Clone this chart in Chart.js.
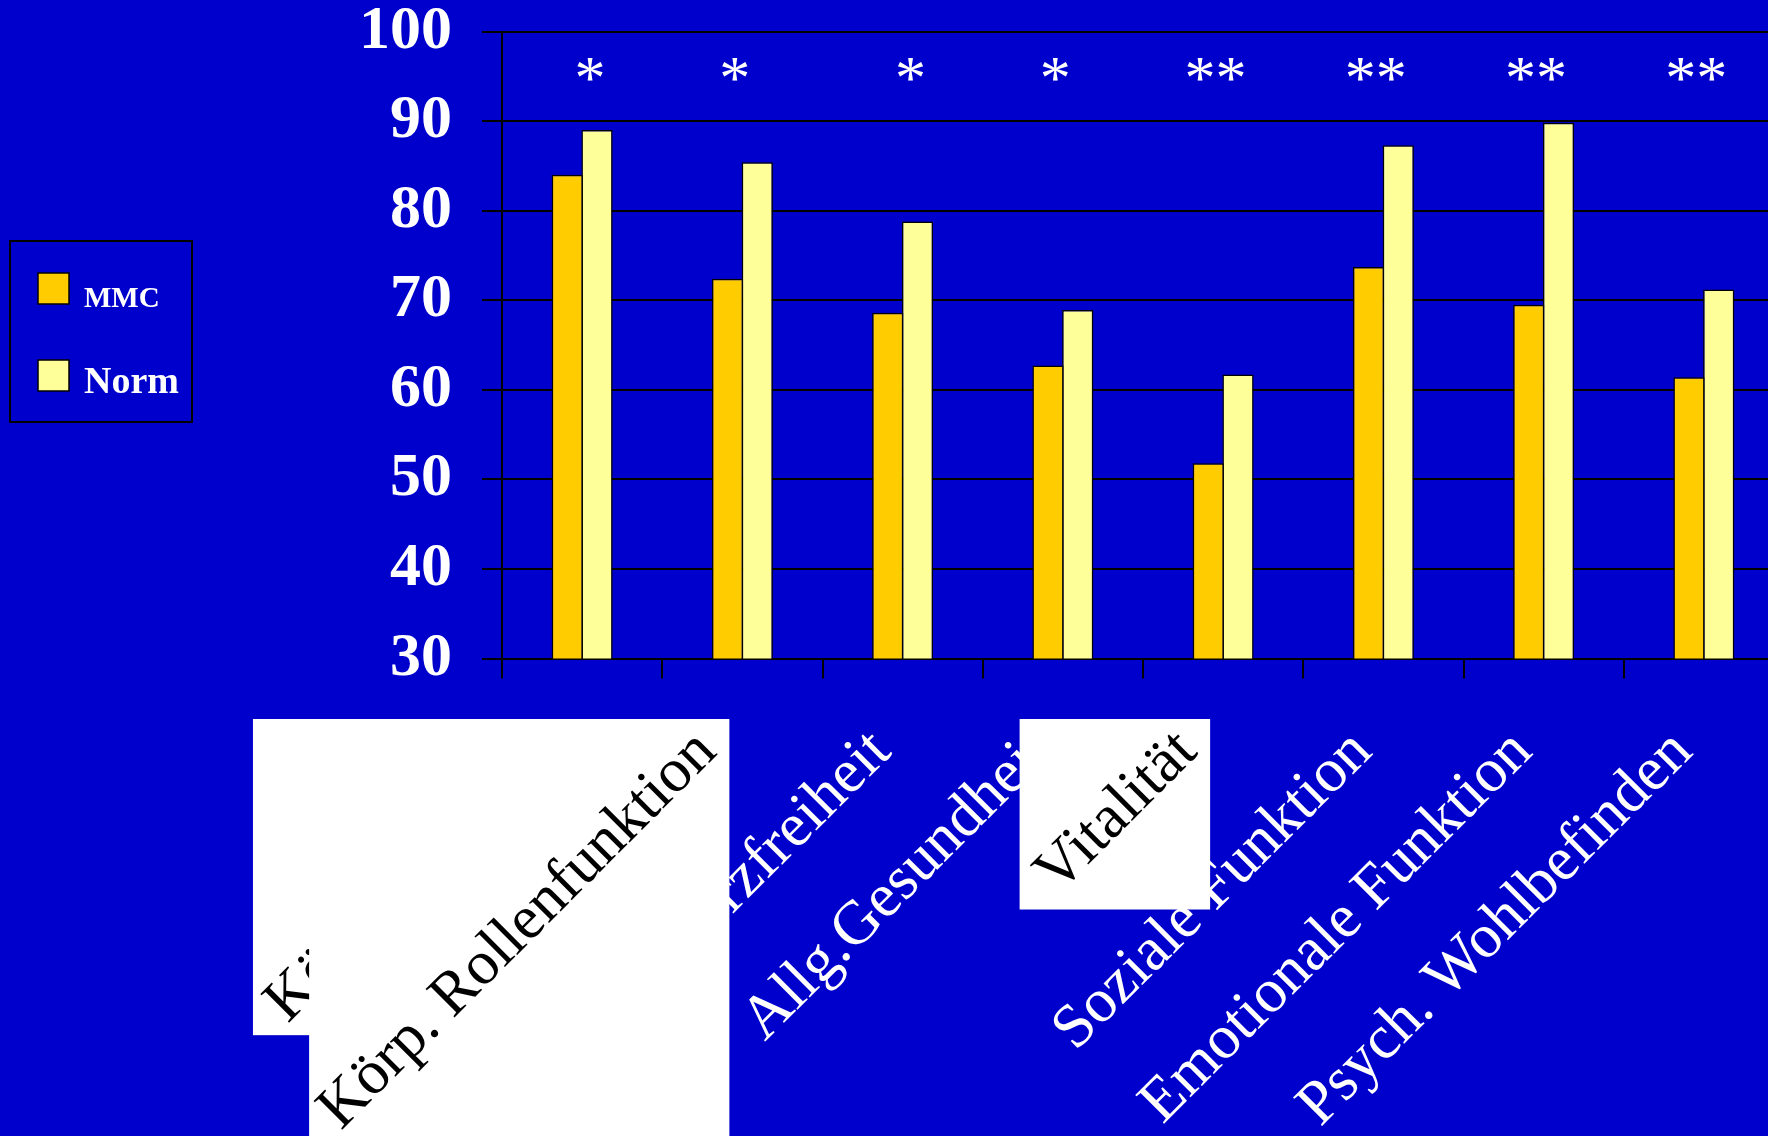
<!DOCTYPE html>
<html lang="de">
<head>
<meta charset="utf-8">
<title>SF-36: MMC und Norm</title>
<script src="https://cdn.jsdelivr.net/npm/chart.js@4/dist/chart.umd.min.js"></script>
<style>
  html, body { margin: 0; padding: 0; background: #0000CC; overflow: hidden; width: 1768px; height: 1136px; }
  #wrap { position: absolute; left: 0; top: 0; width: 1784px; height: 1136px; }
  canvas { display: block; }
</style>
</head>
<body>
<div id="wrap"><canvas id="chart" width="1784" height="1136"></canvas></div>
<script>
// SF-36 scale scores
const categories = [
  'Körp. Funktion', 'Körp. Rollenfunktion', 'Schmerzfreiheit', 'Allg.Gesundheit',
  'Vitalität', 'Soziale Funktion', 'Emotionale Funktion', 'Psych. Wohlbefinden'
];
const mmcValues  = [84, 72.4, 68.6, 62.7, 51.8, 73.7, 69.5, 61.4];
const normValues = [89, 85.4, 78.8, 68.9, 61.7, 87.3, 89.8, 71.2];
const significance = [' *', '* ', ' *', '* ', '** ', '** ', '** ', '** '];
const yTickValues = [30, 40, 50, 60, 70, 80, 90, 100];
// categories whose label sits on a white card
const cardLabelIndex = [0, 1, 4];

const SERIF = "'Liberation Serif', 'Times New Roman', Times, serif";

const decorations = {
  id: 'decorations',
  afterDraw(chart) {
    const ctx = chart.ctx;
    const x = chart.scales.x;
    const area = chart.chartArea;
    const rot = -Math.PI / 4;
    ctx.save();

    // significance markers above the groups
    ctx.fillStyle = '#ffffff';
    ctx.font = `62px ${SERIF}`;
    ctx.textAlign = 'center';
    ctx.textBaseline = 'alphabetic';
    significance.forEach((s, i) => ctx.fillText(s, x.getPixelForValue(i), area.top + 66.5));

    // rotated category labels
    ctx.font = `62px ${SERIF}`;
    ctx.textAlign = 'right';
    ctx.textBaseline = 'middle';
    categories.forEach((c, i) => {
      if (cardLabelIndex.includes(i)) return;
      const px = x.getPixelForValue(i);
      ctx.save();
      ctx.translate(px - 21, area.bottom + 83.5);
      ctx.rotate(rot);
      ctx.fillStyle = '#ffffff';
      ctx.fillText(c, 0, 0);
      ctx.restore();
    });

    // white label cards with black text
    cardLabelIndex.forEach(i => {
      const px = x.getPixelForValue(i);
      const w = ctx.measureText(categories[i]).width;
      const side = w * 0.687 + 53.5;
      const right = px - 13;
      const top = area.bottom + 60.5;
      ctx.fillStyle = '#ffffff';
      ctx.fillRect(right - side, top, side, side);
      ctx.save();
      ctx.beginPath();
      ctx.rect(right - side, top, side, side);
      ctx.clip();
      ctx.filter = 'blur(0.5px)';
      ctx.translate(px - 35.5, top + 23);
      ctx.rotate(rot);
      ctx.fillStyle = '#000000';
      ctx.fillText(categories[i], 0, 0);
      ctx.restore();
    });

    // legend
    ctx.lineWidth = 2;
    ctx.strokeStyle = '#000000';
    ctx.strokeRect(10, 241, 182, 181);
    const rows = [
      { swatchY: 273, baseline: 307, size: 29 },
      { swatchY: 360, baseline: 393, size: 38 }
    ];
    chart.data.datasets.forEach((ds, i) => {
      const r = rows[i];
      ctx.fillStyle = ds.backgroundColor;
      ctx.fillRect(38, r.swatchY, 31, 31);
      ctx.lineWidth = 1.5;
      ctx.strokeRect(38, r.swatchY, 31, 31);
      ctx.fillStyle = '#ffffff';
      ctx.font = `bold ${r.size}px ${SERIF}`;
      ctx.textAlign = 'left';
      ctx.textBaseline = 'alphabetic';
      ctx.fillText(ds.label, 84, r.baseline);
    });

    ctx.restore();
  }
};

new Chart(document.getElementById('chart'), {
  type: 'bar',
  data: {
    labels: categories,
    datasets: [
      { label: 'MMC',  data: mmcValues,  backgroundColor: '#FFCC00', borderColor: '#000000', borderWidth: 1.5 },
      { label: 'Norm', data: normValues, backgroundColor: '#FFFF99', borderColor: '#000000', borderWidth: 1.5 }
    ]
  },
  options: {
    responsive: false,
    devicePixelRatio: 1,
    animation: false,
    categoryPercentage: 0.3714,
    barPercentage: 1.0504,
    layout: { padding: { top: 31.5, left: 0, right: 0, bottom: 0 } },
    plugins: { legend: { display: false }, tooltip: { enabled: false }, title: { display: false } },
    scales: {
      x: {
        offset: true,
        ticks: { display: false },
        grid: { offset: true, drawOnChartArea: false, drawTicks: true, tickLength: 20, color: '#000000', lineWidth: 2 },
        border: { display: true, color: '#000000', width: 2 },
        afterFit(s) { s.height = 1136 - 658.5; s.paddingLeft = 0; s.paddingRight = 0; }
      },
      y: {
        min: 30,
        max: 100,
        afterBuildTicks(s) { s.ticks = yTickValues.map(v => ({ value: v })); },
        ticks: { color: '#ffffff', font: { family: SERIF, size: 62, weight: 'bold' }, padding: 30 },
        grid: { color: '#000000', lineWidth: 2, tickLength: 20, drawTicks: true },
        border: { display: true, color: '#000000', width: 2 },
        afterFit(s) { s.width = 502; s.paddingTop = 0; s.paddingBottom = 0; }
      }
    }
  },
  plugins: [decorations]
});
</script>
</body>
</html>
